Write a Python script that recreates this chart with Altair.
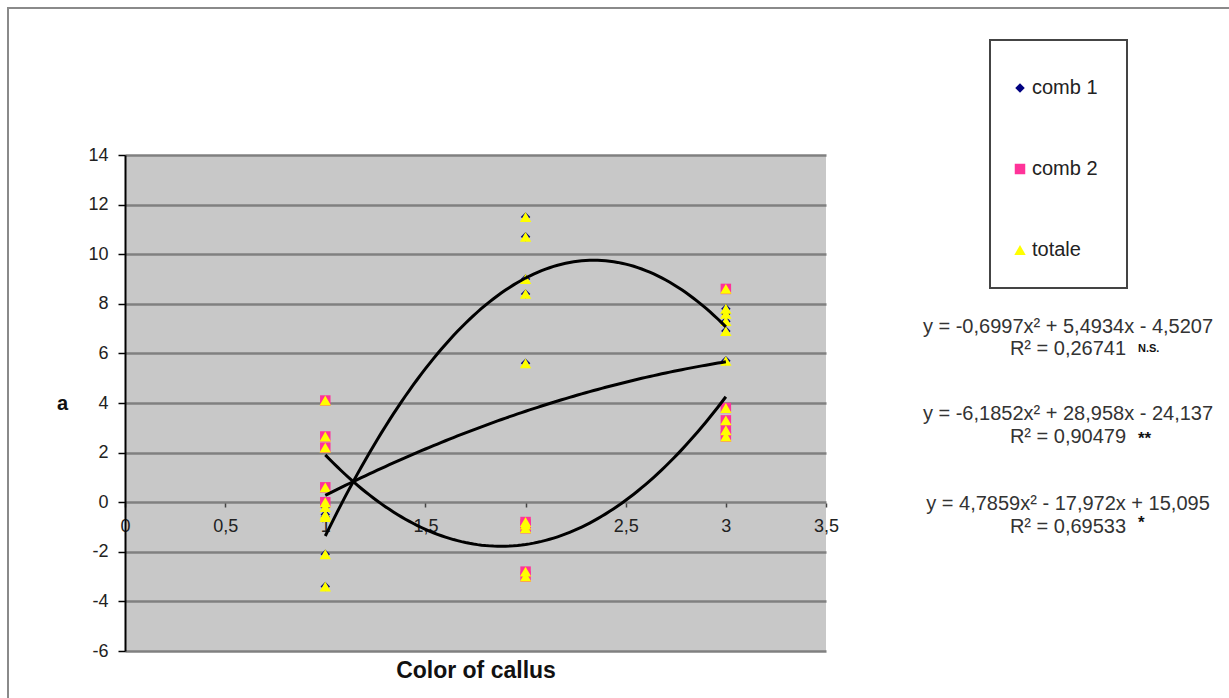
import altair as alt
import pandas as pd

# Colour-of-callus classes on the x axis
callus_colour = [1, 2, 3]

# Readings of "a" for each combination, one list per callus colour class
comb1_by_colour = [
    [-0.2, -0.5, -0.6, -2.1, -3.4],
    [11.5, 10.7, 9.0, 8.4, 5.6],
    [7.8, 7.6, 7.3, 6.9, 5.7],
]
comb2_by_colour = [
    [4.1, 2.65, 2.2, 0.6, 0.0],
    [-0.8, -0.9, -1.05, -2.8, -3.0],
    [8.6, 3.8, 3.3, 2.9, 2.65],
]

series_names = ["comb 1", "comb 2", "totale"]
series_colours = ["#000080", "#FF3399", "#FFFF00"]
series_shapes = ["diamond", "square", "triangle-up"]

# Second-order polynomial trend lines: y = a*x^2 + b*x + c
trend_a = [-0.6997, -6.1852, 4.7859]
trend_b = [5.4934, 28.958, -17.972]
trend_c = [-4.5207, -24.137, 15.095]
trend_r2 = [0.26741, 0.90479, 0.69533]
trend_sig = ["N.S.", "**", "*"]

x_ticks = [0, 0.5, 1, 1.5, 2, 2.5, 3, 3.5]
y_ticks = [-6, -4, -2, 0, 2, 4, 6, 8, 10, 12, 14]

# ---- long table of points; "totale" pools both combinations ----
rows = []
for name, groups in (("comb 1", comb1_by_colour), ("comb 2", comb2_by_colour)):
    for xv, vals in zip(callus_colour, groups):
        for v in vals:
            rows.append({"series": name, "x": xv, "a": v})
for xv, g1, g2 in zip(callus_colour, comb1_by_colour, comb2_by_colour):
    for v in g1 + g2:
        rows.append({"series": "totale", "x": xv, "a": v})
points = pd.DataFrame(rows)

FONT = "Liberation Sans"
comma = "replace(toString(datum.value), '.', ',')"

x_scale = alt.Scale(domain=[0, 3.5], nice=False, zero=False)
y_scale = alt.Scale(domain=[-6, 14], nice=False, zero=False)

x_axis = alt.Axis(
    values=x_ticks, labelExpr=comma, offset=-148, grid=False, domain=False,
    tickSize=4, tickColor="#444", tickWidth=1.5,
    labelFontSize=18, labelPadding=10, labelColor="#222", labelFlush=False,
    title="Color of callus", titleFontSize=23, titleFontWeight="bold",
    titleColor="#111", titleY=167, titleBaseline="middle",
)
y_axis = alt.Axis(
    values=y_ticks, labelExpr=comma, grid=True, gridColor="#808080", gridWidth=2.5,
    domainColor="#000", domainWidth=2, tickColor="#000", tickSize=7, tickWidth=1.5,
    labelFontSize=18, labelPadding=10, labelColor="#222",
    title="a", titleAngle=0, titleFontSize=20, titleFontWeight="bold",
    titleColor="#111", titleX=-63, titleY=248, titleAlign="center",
    titleBaseline="middle",
)

# legend entries sit inside a separately drawn box
legend = alt.Legend(
    title=None, orient="none", legendX=885, legendY=-77,
    padding=0, rowPadding=61, labelFontSize=20, labelColor="#222",
    labelOffset=2, symbolSize=90, zindex=2,
)

scatter = alt.Chart(points).mark_point(filled=True, opacity=1).encode(
    x=alt.X("x:Q", scale=x_scale, axis=x_axis),
    y=alt.Y("a:Q", scale=y_scale, axis=y_axis),
    color=alt.Color("series:N", scale=alt.Scale(domain=series_names, range=series_colours), legend=legend),
    shape=alt.Shape("series:N", scale=alt.Scale(domain=series_names, range=series_shapes), legend=legend),
    size=alt.Size("series:N", scale=alt.Scale(domain=series_names, range=[90, 130, 150]), legend=None),
)

# Trend curves evaluated from the stated coefficients over the observed x range
curves = []
for a, b, c in zip(trend_a, trend_b, trend_c):
    curves.append(
        alt.Chart(alt.sequence(1, 3.0001, 0.02, as_="x"))
        .transform_calculate(a=f"({a})*datum.x*datum.x + ({b})*datum.x + ({c})")
        .mark_line(color="black", strokeWidth=3)
        .encode(x=alt.X("x:Q", scale=x_scale, axis=x_axis),
                y=alt.Y("a:Q", scale=y_scale, axis=y_axis))
    )


def num(v):
    return str(v).replace(".", ",")


def equation(a, b, c):
    s = f"y = {num(a)}x² "
    s += ("- " if b < 0 else "+ ") + num(abs(b)) + "x "
    s += ("- " if c < 0 else "+ ") + num(abs(c))
    return s


labels = []
eq_y = [172, 259, 349]
r2_y = [194, 282, 372]
sig_y = [188, 276, 360]
sig_size = [11, 17, 17]
for i in range(3):
    eq = pd.DataFrame({"t": [equation(trend_a[i], trend_b[i], trend_c[i])]})
    r2 = pd.DataFrame({"t": [f"R² = {num(trend_r2[i])}"]})
    sig = pd.DataFrame({"t": [trend_sig[i]]})
    labels.append(alt.Chart(eq).mark_text(font=FONT, fontSize=20, color="#333", align="center",
                                          baseline="middle")
                  .encode(text="t:N", x=alt.value(943), y=alt.value(eq_y[i])))
    labels.append(alt.Chart(r2).mark_text(font=FONT, fontSize=20, color="#333", align="center",
                                          baseline="middle")
                  .encode(text="t:N", x=alt.value(943), y=alt.value(r2_y[i])))
    labels.append(alt.Chart(sig).mark_text(font=FONT, fontSize=sig_size[i], fontWeight="bold",
                                           color="#111", align="left", baseline="top")
                  .encode(text="t:N", x=alt.value(1013), y=alt.value(sig_y[i])))

one_row = pd.DataFrame({"k": [0]})

# outer frame of the figure
frame = alt.Chart(one_row).mark_rect(
    fillOpacity=0, stroke="#8a8a8a", strokeWidth=2
).encode(x=alt.value(-117), x2=alt.value(1115), y=alt.value(-147), y2=alt.value(560))

# box around the legend entries
legend_box = alt.Chart(one_row).mark_rect(
    fill="white", stroke="#444", strokeWidth=2
).encode(x=alt.value(865), x2=alt.value(1002), y=alt.value(-115), y2=alt.value(133))

chart = (
    alt.layer(frame, legend_box, scatter, *curves, *labels)
    .properties(
        width=701, height=496, autosize="none",
        padding={"left": 125, "top": 155, "right": 403, "bottom": 47},
        background="white",
    )
    .configure(font=FONT)
    .configure_view(fill="#C8C8C8", stroke=None)
)

chart.save("out.html", embed_options={"renderer": "svg", "actions": False})
